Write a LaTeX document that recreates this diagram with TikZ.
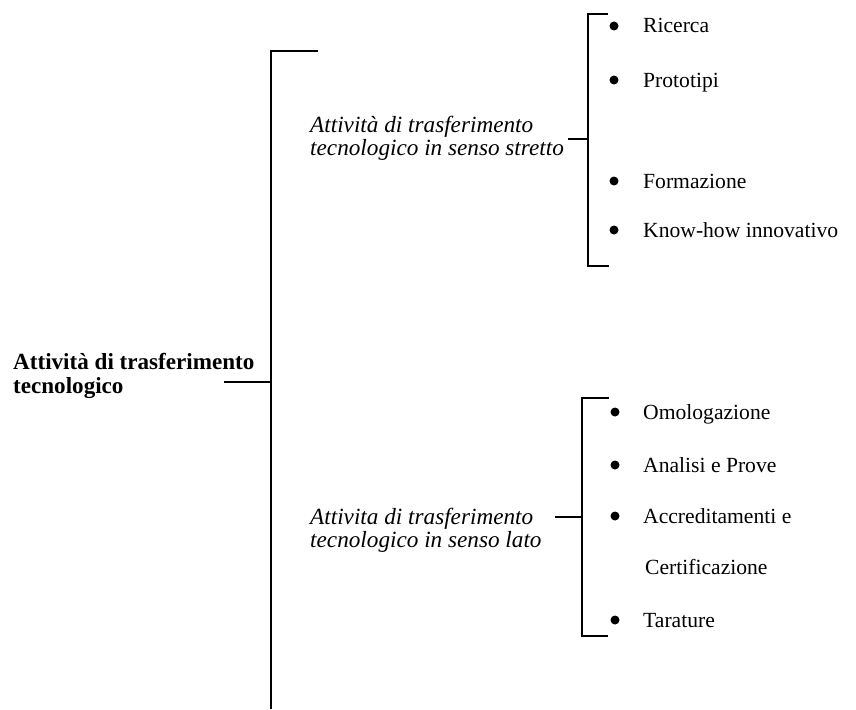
\documentclass[tikz,border=0pt]{standalone}
\usepackage{fontspec}
\setmainfont{Liberation Serif}
\begin{document}
\begin{tikzpicture}[x=1pt,y=-1pt,
  txt/.style={anchor=base west, inner sep=0pt, font=\fontsize{21.6}{26}\selectfont},
  itxt/.style={anchor=base west, inner sep=0pt, font=\fontsize{23.2}{26}\selectfont\itshape},
  btxt/.style={anchor=base west, inner sep=0pt, font=\fontsize{23.1}{26}\selectfont\bfseries},
  dot/.style={circle, fill=black, draw=none, inner sep=0pt, minimum size=9pt},
  link/.style={draw=black, line width=1.4pt}]
\useasboundingbox (0,0) rectangle (856,709);
% main label
\node[btxt] (m1) at (13,369) {Attività di trasferimento};
\node[btxt] (m2) at (13,393) {tecnologico};
% trunk
\coordinate (mL) at (224,382);
\coordinate (mJ) at (271,382);
\coordinate (tT) at (271,51);
\coordinate (tTE) at (318,51);
\coordinate (tB) at (271,709);
\draw[link] (mL) -- (mJ);
\draw[link] (tTE) -- (tT) -- (tB);
% upper group
\node[itxt] (s1) at (310,132) {Attività di trasferimento};
\node[itxt] (s2) at (310,155) {tecnologico in senso stretto};
\coordinate (uL) at (568,139);
\coordinate (uJ) at (588,139);
\coordinate (uT) at (588,14);
\coordinate (uTE) at (608,14);
\coordinate (uB) at (588,266);
\coordinate (uBE) at (609,266);
\draw[link] (uL) -- (uJ);
\draw[link] (uTE) -- (uT) -- (uB) -- (uBE);
\node[dot] (b1) at (614,26) {};
\node[txt] (i1) at (643,33) {Ricerca};
\node[dot] (b2) at (614,80) {};
\node[txt] (i2) at (643,87) {Prototipi};
\node[dot] (b3) at (614,181) {};
\node[txt] (i3) at (643,188) {Formazione};
\node[dot] (b4) at (614,230) {};
\node[txt] (i4) at (643,237) {Know-how innovativo};
% lower group
\node[itxt] (l1) at (310,524) {Attivita di trasferimento};
\node[itxt] (l2) at (310,547) {tecnologico in senso lato};
\coordinate (lL) at (555,517);
\coordinate (lJ) at (582,517);
\coordinate (lT) at (582,398);
\coordinate (lTE) at (609,398);
\coordinate (lB) at (582,636);
\coordinate (lBE) at (608,636);
\draw[link] (lL) -- (lJ);
\draw[link] (lTE) -- (lT) -- (lB) -- (lBE);
\node[dot] (c1) at (615,412) {};
\node[txt] (j1) at (643,419) {Omologazione};
\node[dot] (c2) at (615,465) {};
\node[txt] (j2) at (643,472) {Analisi e Prove};
\node[dot] (c3) at (615,516) {};
\node[txt] (j3) at (643,523) {Accreditamenti e};
\node[txt] (j4) at (645,574) {Certificazione};
\node[dot] (c5) at (615,620) {};
\node[txt] (j5) at (643,627) {Tarature};
\end{tikzpicture}
\end{document}
